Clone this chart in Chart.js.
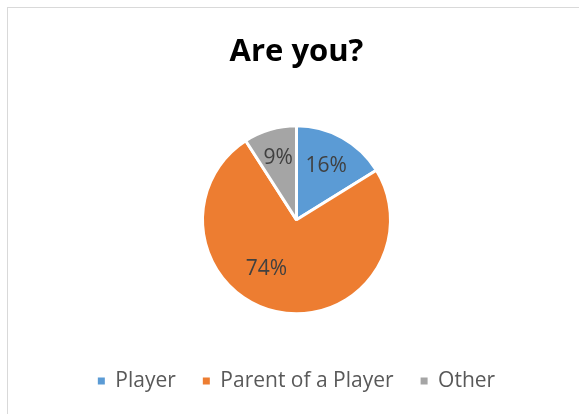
<!DOCTYPE html>
<html>
<head>
<meta charset="utf-8">
<script src="https://cdn.jsdelivr.net/npm/chart.js@4"></script>
<style>
  html, body { margin: 0; padding: 0; background: #fff; overflow: hidden; }
  #wrap { position: absolute; left: 7px; top: 7px; width: 577px; height: 406px; border: 1px solid #D9D9D9; }
  canvas { display: block; }
</style>
</head>
<body>
<div id="wrap"><canvas id="c" width="577" height="406"></canvas></div>
<script>
const categories = ['Player', 'Parent of a Player', 'Other'];
const values = [16, 74, 9];
const colors = ['#5B9BD5', '#ED7D31', '#A5A5A5'];
const titleText = 'Are you?';
// label placement within each slice: fraction of the slice's angle, fraction of radius
const labelAngleFrac = [0.5, 0.57, 0.5];
const labelRadiusFrac = [0.65, 0.61, 0.69];

Chart.defaults.font.family = "'Open Sans', sans-serif";

const pieLabels = {
  id: 'pieLabels',
  afterDatasetsDraw(chart) {
    const ctx = chart.ctx;
    const meta = chart.getDatasetMeta(0);
    ctx.save();
    ctx.font = "21px 'Open Sans', sans-serif";
    ctx.fillStyle = '#404040';
    ctx.textAlign = 'center';
    ctx.textBaseline = 'middle';
    meta.data.forEach((arc, i) => {
      const p = arc.getProps(['x', 'y', 'startAngle', 'endAngle', 'outerRadius'], true);
      const a = p.startAngle + (p.endAngle - p.startAngle) * labelAngleFrac[i];
      const r = p.outerRadius * labelRadiusFrac[i];
      ctx.fillText(values[i] + '%', p.x + Math.cos(a) * r, p.y + Math.sin(a) * r);
    });
    ctx.restore();
  }
};

new Chart(document.getElementById('c'), {
  type: 'pie',
  data: {
    labels: categories,
    datasets: [{
      data: values,
      backgroundColor: colors,
      borderColor: '#FFFFFF',
      borderWidth: 3,
      hoverOffset: 0,
      offset: 0
    }]
  },
  options: {
    responsive: false,
    animation: false,
    radius: 94,
    layout: { padding: { top: 0, bottom: 12.5, left: 0, right: 0 } },
    plugins: {
      tooltip: { enabled: false },
      title: {
        display: true,
        text: titleText,
        color: '#000000',
        font: { size: 31, weight: 'bold' },
        padding: { top: 26, bottom: 25 }
      },
      legend: {
        position: 'bottom',
        labels: {
          color: '#595959',
          font: { size: 21 },
          boxWidth: 7,
          boxHeight: 7,
          padding: 27,
          generateLabels(chart) {
            const items = Chart.controllers.pie.overrides.plugins.legend.labels.generateLabels(chart);
            return items.map(it => Object.assign(it, { lineWidth: 0, strokeStyle: 'rgba(0,0,0,0)' }));
          }
        }
      }
    }
  },
  plugins: [pieLabels]
});
</script>
</body>
</html>
